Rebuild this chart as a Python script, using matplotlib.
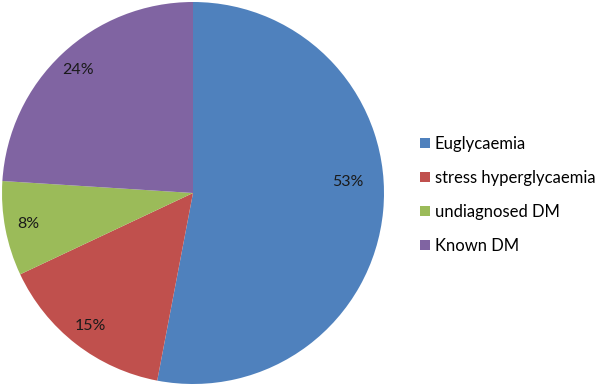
import matplotlib
matplotlib.use("Agg")
import matplotlib.pyplot as plt
from matplotlib.patches import Patch

categories = ["Euglycaemia", "stress hyperglycaemia", "undiagnosed DM", "Known DM"]
values = [53, 15, 8, 24]
colors = ["#4F81BD", "#C0504D", "#9BBB59", "#8064A2"]

plt.rcParams['font.family'] = ['Lato', 'DejaVu Sans']

fig = plt.figure(figsize=(6, 3.88), dpi=100)
W, H = 600, 388
cx, cy, r = 193, 193, 191
ax = fig.add_axes([(cx - r) / W, (H - cy - r) / H, 2 * r / W, 2 * r / H])
wedges, texts, autotexts = ax.pie(values, colors=colors, startangle=90, counterclock=False,
                                  autopct='%1.0f%%', pctdistance=0.88,
                                  wedgeprops=dict(linewidth=0),
                                  textprops=dict(fontsize=11.5, color='#1a1a1a'))
# Excel-style placement of the large slice label (slightly above centre line)
autotexts[0].set_position((0.81, 0.06))
ax.set_aspect('equal')
ax.set_xlim(-1, 1)
ax.set_ylim(-1, 1)
ax.axis('off')

handles = [Patch(facecolor=c, edgecolor='none') for c in colors]
fig.legend(handles, categories, loc='upper left', bbox_to_anchor=(420 / W, 1 - 136 / H),
           frameon=False, fontsize=12, handlelength=0.6, handleheight=0.6,
           handletextpad=0.3, labelspacing=1.08, borderaxespad=0, borderpad=0)

fig.savefig("out.png", dpi=100)
